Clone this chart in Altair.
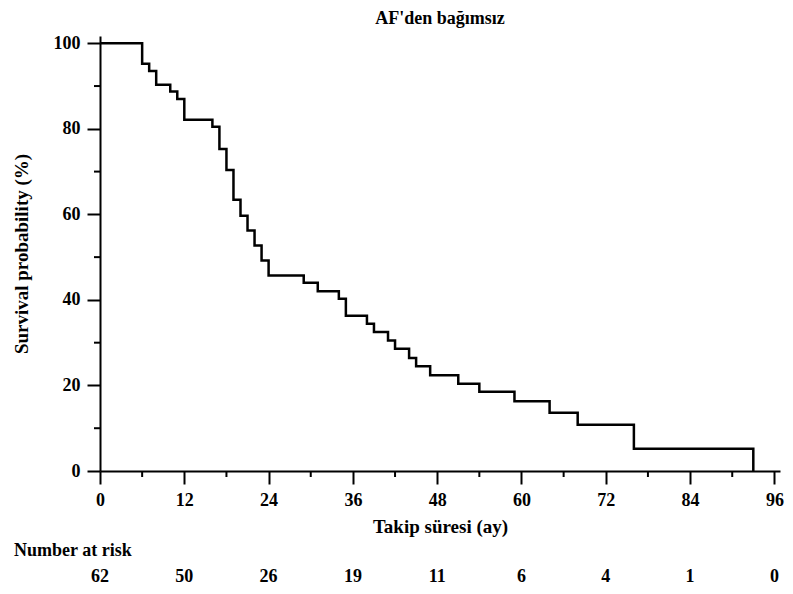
import altair as alt
import pandas as pd

# Kaplan-Meier step curve (time in months, survival %)
times = [0, 6, 7, 8, 10, 11, 12, 16, 17, 18, 19, 20, 21, 22, 23, 24,
         29, 31, 34, 35, 38, 39, 41, 42, 44, 45, 47, 51, 54, 59, 64, 68, 76, 93]
surv = [100, 95.2, 93.5, 90.3, 88.7, 87.0, 82.1, 80.5, 75.3, 70.4, 63.4, 59.7, 56.2, 52.7, 49.2, 45.7,
        44.0, 42.0, 40.3, 36.3, 34.4, 32.5, 30.5, 28.6, 26.4, 24.5, 22.4, 20.4, 18.5, 16.3, 13.6, 10.8, 5.2, 0]

x_ticks = [0, 12, 24, 36, 48, 60, 72, 84, 96]
x_minor = [6, 18, 30, 42, 54, 66, 78, 90]
y_ticks = [0, 20, 40, 60, 80, 100]
y_minor = [10, 30, 50, 70, 90]
at_risk = [62, 50, 26, 19, 11, 6, 4, 1, 0]

title_text = "AF'den bağımsız"
x_title = "Takip süresi (ay)"
y_title = "Survival probability (%)"
risk_label = "Number at risk"

FONT = "Liberation Serif"
W, H = 680, 435

km = pd.DataFrame({"t": times, "s": surv})
xs = alt.Scale(domain=[0, 96.8], nice=False, zero=False)
ys = alt.Scale(domain=[0, 101.7], nice=False, zero=False)

x_axis = alt.Axis(values=x_ticks, format="d", grid=False, tickSize=13, tickWidth=2,
                  domainWidth=2, domainColor="black", tickColor="black",
                  labelFont=FONT, labelFontSize=18, labelFontWeight="bold", labelColor="black",
                  labelPadding=7, labelFlush=False, labelOverlap=False,
                  title=x_title, titleFont=FONT, titleFontSize=19, titleFontWeight="bold",
                  titleColor="black", titleX=340, titleY=55, titleAlign="center",
                  titleBaseline="middle")
y_axis = alt.Axis(values=y_ticks, format="d", grid=False, tickSize=13, tickWidth=2,
                  domainWidth=2, domainColor="black", tickColor="black",
                  labelFont=FONT, labelFontSize=18, labelFontWeight="bold", labelColor="black",
                  labelPadding=7, labelFlush=False, labelOverlap=False,
                  title=y_title, titleFont=FONT, titleFontSize=19, titleFontWeight="bold",
                  titleColor="black", titleAngle=270, titleX=-79, titleY=H / 2,
                  titleAlign="center", titleBaseline="middle")

line = alt.Chart(km).mark_line(interpolate="step-after", color="black", strokeWidth=2.5,
                               strokeJoin="miter").encode(
    x=alt.X("t:Q", scale=xs, axis=x_axis),
    y=alt.Y("s:Q", scale=ys, axis=y_axis),
)

xminor = alt.Chart(pd.DataFrame({"t": x_minor})).mark_rule(color="black", strokeWidth=2).encode(
    x=alt.X("t:Q", scale=xs, axis=x_axis), y=alt.value(H), y2=alt.value(H + 6))
yminor = alt.Chart(pd.DataFrame({"s": y_minor})).mark_rule(color="black", strokeWidth=2).encode(
    y=alt.Y("s:Q", scale=ys, axis=y_axis), x=alt.value(-6), x2=alt.value(0))

risk = alt.Chart(pd.DataFrame({"t": x_ticks, "n": at_risk})).mark_text(
    font=FONT, fontSize=18, fontWeight="bold", color="black", align="center", baseline="middle"
).encode(x=alt.X("t:Q", scale=xs, axis=x_axis), y=alt.value(541), text="n:Q")

risk_lbl = alt.Chart(pd.DataFrame({"label": [risk_label]})).mark_text(
    font=FONT, fontSize=18, fontWeight="bold", color="black", align="left", baseline="middle"
).encode(x=alt.value(-86), y=alt.value(515), text="label:N")

ttl = alt.Chart(pd.DataFrame({"label": [title_text]})).mark_text(
    font=FONT, fontSize=18, fontWeight="bold", color="black", align="center", baseline="middle"
).encode(x=alt.value(340), y=alt.value(-17), text="label:N")

chart = alt.layer(line, xminor, yminor, risk, risk_lbl, ttl).properties(
    width=W, height=H,
    autosize=alt.AutoSizeParams(type="none"),
    padding={"left": 92, "top": 28, "right": 5, "bottom": 115},
).configure(background="white").configure_view(stroke=None)

chart.save("out.html", embed_options={"renderer": "svg", "actions": False})
